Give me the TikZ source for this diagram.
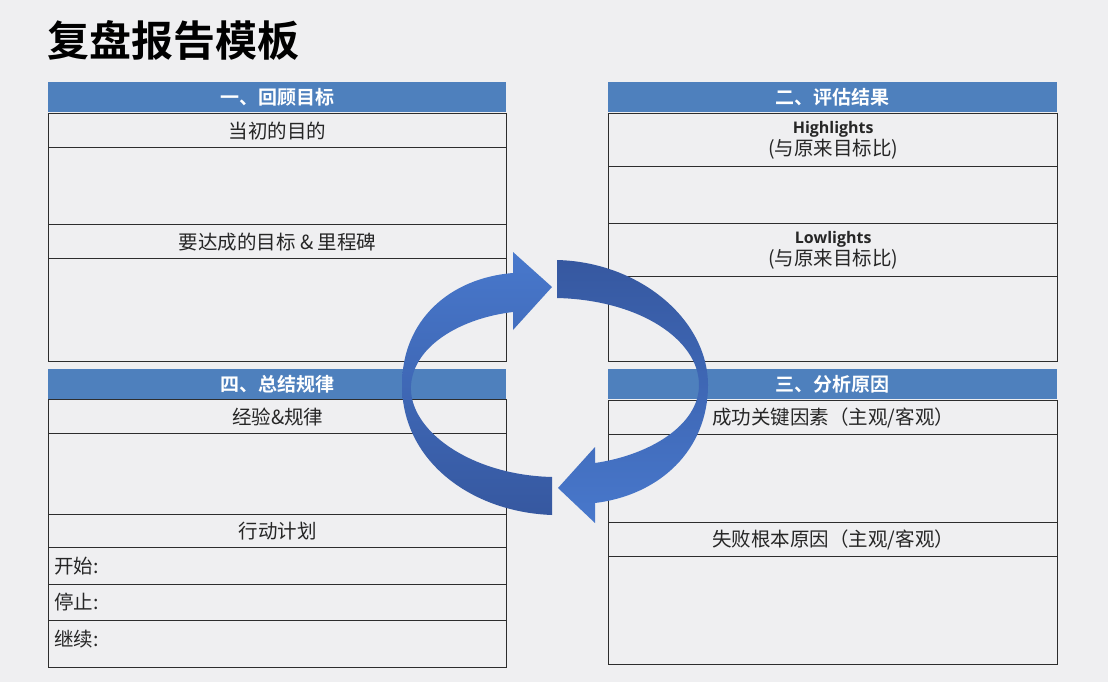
\documentclass[tikz,border=0pt]{standalone}
\usepackage{fontspec}
\setmainfont{Noto Sans CJK SC}[BoldFont={Noto Sans CJK SC Bold}]
\newfontfamily\latinb{Open Sans}
\newcommand\myen{\latinb\fontsize{16}{18}\selectfont\bfseries}
\definecolor{bg}{RGB}{239,239,241}
\definecolor{hdrblue}{RGB}{78,128,189}
\definecolor{linegray}{RGB}{45,45,45}
\definecolor{textgray}{RGB}{38,38,38}
\definecolor{arrlight}{RGB}{72,120,204}
\definecolor{arrdark}{RGB}{54,88,160}
\begin{document}
\begin{tikzpicture}[x=1pt,y=-1pt,
  row/.style={draw=linegray, line width=1.4pt, anchor=north west, inner sep=0pt,
    font=\fontsize{19.5}{22}\selectfont, text=textgray, align=center},
  lrow/.style={row, minimum width=458pt},
  rrow/.style={row, minimum width=449pt},
  hdr/.style={fill=hdrblue, draw=none, anchor=north west, inner sep=0pt,
    minimum height=30pt, font=\fontsize{19}{20}\selectfont\bfseries, text=white},
  lbl/.style={anchor=west, inner sep=0pt, font=\fontsize{19.5}{22}\selectfont, text=textgray}
]
\useasboundingbox (0,0) rectangle (1108,682);
\fill[bg] (0,0) rectangle (1108,682);

% title
\node[anchor=west, inner sep=0pt, font=\fontsize{42}{46}\selectfont\bfseries, text=black] (title) at (47,40) {复盘报告模板};

% ---- left top panel
\node[hdr, minimum width=458pt] (h1) at (48,82) {一、回顾目标};
\node[lrow, minimum height=34pt] (l1) at (48,113) {当初的目的};
\node[lrow, minimum height=77pt] (l2) at (48,147) {};
\node[lrow, minimum height=34pt] (l3) at (48,224) {要达成的目标 \& 里程碑};
\node[lrow, minimum height=103pt] (l4) at (48,258) {};

% ---- left bottom panel
\node[hdr, minimum width=458pt] (h4) at (48,369) {四、总结规律};
\node[lrow, minimum height=34pt] (l5) at (48,399) {经验\&规律};
\node[lrow, minimum height=81pt] (l6) at (48,433) {};
\node[lrow, minimum height=33pt] (l7) at (48,514) {行动计划};
\node[lrow, minimum height=37pt] (l8) at (48,547) {};
\node[lrow, minimum height=36pt] (l9) at (48,584) {};
\node[lrow, minimum height=47pt] (l10) at (48,620) {};
\node[lbl] (t8) at (54,566) {开始:};
\node[lbl] (t9) at (54,602) {停止:};
\node[lbl] (t10) at (54,639) {继续:};

% ---- right top panel
\node[hdr, minimum width=449pt] (h2) at (608,82) {二、评估结果};
\node[rrow, minimum height=53pt] (r1) at (608,113) {{\myen Highlights}\\(与原来目标比)};
\node[rrow, minimum height=57pt] (r2) at (608,166) {};
\node[rrow, minimum height=53pt] (r3) at (608,223) {{\myen Lowlights}\\(与原来目标比)};
\node[rrow, minimum height=85pt] (r4) at (608,276) {};

% ---- right bottom panel
\node[hdr, minimum width=449pt] (h3) at (608,369) {三、分析原因};
\node[rrow, minimum height=34pt] (r5) at (608,400) {成功关键因素（主观/客观）};
\node[rrow, minimum height=88pt] (r6) at (608,434) {};
\node[rrow, minimum height=34pt] (r7) at (608,522) {失败根本原因（主观/客观）};
\node[rrow, minimum height=108pt] (r8) at (608,556) {};

% ---- circular arrows
% left arrow (bottom -> left -> top, pointing right)
\shade[top color=arrlight, bottom color=arrdark]
  (552,515) .. controls (470,512) and (402,460) .. (402,385)
  .. controls (402,320) and (450,278) .. (513,273)
  -- (513,252) -- (552,287) -- (513,330) -- (513,312)
  .. controls (462,318) and (414,345) .. (411,385)
  .. controls (408,430) and (470,475) .. (552,477) -- cycle;
% right arrow (top -> right -> bottom, pointing left)
\shade[top color=arrdark, bottom color=arrlight]
  (557,260) .. controls (640,262) and (708,320) .. (708,385)
  .. controls (708,450) and (660,495) .. (595,503)
  -- (595,523) -- (558,488) -- (595,447) -- (595,463)
  .. controls (650,455) and (699,425) .. (699,385)
  .. controls (699,340) and (640,300) .. (557,298) -- cycle;
\end{tikzpicture}
\end{document}
